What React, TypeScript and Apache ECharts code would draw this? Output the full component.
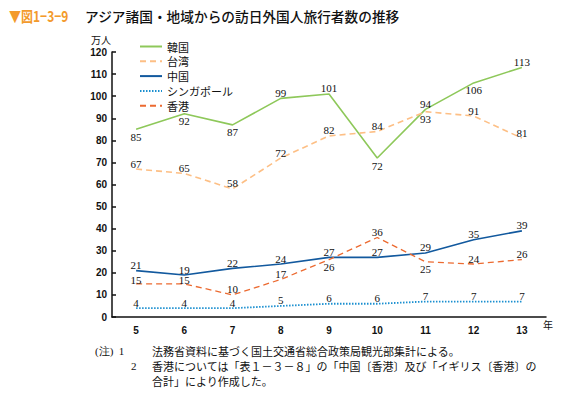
import React, { useEffect, useRef } from "react";
import * as echarts from "echarts";

const years = ["5", "6", "7", "8", "9", "10", "11", "12", "13"];
const korea = [85, 92, 87, 99, 101, 72, 94, 106, 113];
const taiwan = [67, 65, 58, 72, 82, 84, 93, 91, 81];
const china = [21, 19, 22, 24, 27, 27, 29, 35, 39];
const singapore = [4, 4, 4, 5, 6, 6, 7, 7, 7];
const hongkong = [15, 15, 10, 17, 26, 36, 25, 24, 26];

const serif = "'Liberation Serif', 'DejaVu Serif', serif";
const sans = "'Liberation Sans', Arial, sans-serif";
const jp = "'Noto Sans CJK JP', sans-serif";

function mk(name: string, data: number[], color: string, type: any, width: number, below: number[], tight: number[] = []) {
  return {
    name,
    type: "line",
    data: data.map((v, i) => ({
      value: v,
      label: below.includes(i)
        ? { position: "bottom", distance: 2 }
        : { position: "top", distance: tight.includes(i) ? -2 : 0 },
    })),
    symbol: "circle",
    symbolSize: 0,
    showSymbol: true,
    lineStyle: { color, type, width },
    itemStyle: { color },
    label: {
      show: true,
      color: "#111",
      fontFamily: serif,
      fontSize: 11,
      lineHeight: 11,
    },
  };
}

export default function App() {
  const ref = useRef<HTMLDivElement>(null);
  useEffect(() => {
    const chart = echarts.init(ref.current!, null, { renderer: "svg" });
    chart.setOption({
      animation: false,
      backgroundColor: "#fff",
      grid: { left: 112, right: 15, top: 52, bottom: 80 },
      legend: {
        orient: "vertical",
        left: 134,
        top: 36,
        itemGap: 3.8,
        itemWidth: 22,
        itemHeight: 10,
        itemStyle: { opacity: 0 },
        textStyle: { fontFamily: jp, fontSize: 11, color: "#111" },
        data: ["韓国", "台湾", "中国", "シンガポール", "香港"],
      },
      xAxis: {
        type: "category",
        data: years,
        boundaryGap: true,
        axisLine: { lineStyle: { color: "#111", width: 1.5 } },
        axisTick: { inside: true, length: 4, lineStyle: { color: "#111", width: 1.5 } },
        axisLabel: { color: "#111", fontFamily: sans, fontSize: 10, fontWeight: "bold", margin: 8 },
      },
      yAxis: {
        type: "value",
        min: 0,
        max: 120,
        interval: 10,
        splitLine: { show: false },
        axisLine: { show: true, lineStyle: { color: "#111", width: 1.5 } },
        axisTick: { show: true, inside: true, length: 4, lineStyle: { color: "#111", width: 1.5 } },
        axisLabel: { color: "#111", fontFamily: sans, fontSize: 10, fontWeight: "bold", margin: 5 },
      },
      series: [
        mk("韓国", korea, "#8ec85a", "solid", 1.6, [0, 1, 2, 5, 7]),
        mk("台湾", taiwan, "#fdbf85", [6, 4], 1.6, [6]),
        mk("中国", china, "#12599e", "solid", 1.6, []),
        mk("シンガポール", singapore, "#1a8fd0", [1.5, 1.5], 1.8, []),
        mk("香港", hongkong, "#ec6a30", [6, 4], 1.3, [4, 6], [0, 1]),
      ],
      graphic: [
        { type: "text", x: 9, y: 8, scaleX: 0.8, style: { text: "▼図1−3−9", fill: "#f39a2c", font: `bold 15px ${jp}` } },
        { type: "text", left: 85, top: 9, style: { text: "アジア諸国・地域からの訪日外国人旅行者数の推移", fill: "#111", font: `500 13.7px ${jp}` } },
        { type: "text", left: 91, top: 34, style: { text: "万人", fill: "#111", font: `10px ${jp}`, lineHeight: 11 } },
        { type: "text", left: 543, top: 319, style: { text: "年", fill: "#111", font: `10px ${jp}` } },
        { type: "text", left: 95, top: 345, style: { text: "(注)  1", fill: "#111", font: `11px ${serif}` } },
        { type: "text", left: 152, top: 345, style: { text: "法務省資料に基づく国土交通省総合政策局観光部集計による。", fill: "#111", font: `11px ${jp}`, lineHeight: 12 } },
        { type: "text", left: 131, top: 360, style: { text: "2", fill: "#111", font: `11px ${serif}` } },
        { type: "text", left: 152, top: 360, style: { text: "香港については「表１－３－８」の「中国〔香港〕及び「イギリス〔香港〕の", fill: "#111", font: `11px ${jp}`, lineHeight: 12 } },
        { type: "text", left: 152, top: 375, style: { text: "合計」により作成した。", fill: "#111", font: `11px ${jp}`, lineHeight: 12 } },
      ],
    });
    return () => chart.dispose();
  }, []);
  return <div ref={ref} style={{ position: "absolute", left: 0, top: 0, width: 561, height: 397 }} />;
}
